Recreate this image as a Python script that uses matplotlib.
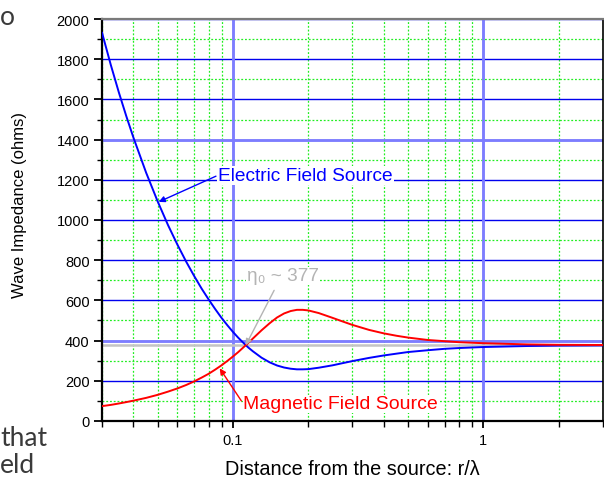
import matplotlib
matplotlib.use('Agg')
import matplotlib.pyplot as plt
from matplotlib.ticker import FixedLocator, FixedFormatter, MultipleLocator, NullFormatter, LogLocator

plt.rcParams['font.family'] = ['Liberation Sans', 'DejaVu Sans']

# values (r/lambda, ohms)
r_over_lambda = [0.03, 0.0325, 0.035, 0.0375, 0.04, 0.045, 0.05, 0.055, 0.06, 0.065, 0.07, 0.075,
                 0.08, 0.085, 0.09, 0.095, 0.1, 0.105, 0.11, 0.115, 0.12, 0.13, 0.14, 0.15, 0.16,
                 0.17, 0.18, 0.19, 0.2, 0.22, 0.25, 0.27, 0.3, 0.35, 0.4, 0.45, 0.5, 0.6, 0.7,
                 0.8, 1.0, 1.5, 2.0, 3.0]
electric_z = [1931, 1772, 1635, 1516, 1411, 1235, 1093, 975, 877, 793, 721, 658,
              604, 556, 513, 476, 443, 414, 389, 366, 347, 315, 292, 276, 266,
              260, 257, 257, 258, 265, 277, 286, 298, 314, 326, 335, 343, 352, 359,
              363, 368, 373, 375, 376]
magnetic_z = [74, 80, 87, 94, 101, 115, 130, 146, 162, 179, 197, 216,
              235, 256, 277, 299, 321, 343, 366, 388, 410, 451, 486, 515, 535,
              547, 553, 553, 550, 537, 513, 498, 478, 453, 436, 424, 415, 403, 397,
              392, 387, 381, 379, 378]
eta0 = 377

y_major = list(range(0, 2001, 200))
x_major = [0.1, 1]
x_major_labels = ['0.1', '1']

fig = plt.figure(figsize=(6.04, 4.81), dpi=100)
ax = fig.add_axes([0.169, 0.1227, 0.829, 0.8357])
ax.set_xscale('log')
ax.set_xlim(0.03, 3.0)
ax.set_ylim(0, 2000)

ax.yaxis.set_major_locator(FixedLocator(y_major))
ax.yaxis.set_minor_locator(MultipleLocator(100))
ax.xaxis.set_major_locator(FixedLocator(x_major))
ax.xaxis.set_major_formatter(FixedFormatter(x_major_labels))
ax.xaxis.set_minor_locator(LogLocator(base=10, subs=range(2, 10)))
ax.xaxis.set_minor_formatter(NullFormatter())

ax.grid(True, which='minor', color='#22ee22', linestyle=(0, (1.5, 1.5)), linewidth=0.9, zorder=0)
ax.grid(True, which='major', color='#0000ee', linewidth=1.0, zorder=1)
ax.set_axisbelow(True)
for yv in (400, 1400):
    ax.axhline(yv, color='#7d7dff', linewidth=2.0, zorder=1.1)
for xv in x_major:
    ax.axvline(xv, color='#7d7dff', linewidth=2.0, zorder=1.1)

ax.axhline(eta0, color='#c4c4c4', linewidth=1.8, zorder=2)
ax.plot(r_over_lambda, electric_z, color='#0000ff', linewidth=1.4, zorder=3)
ax.plot(r_over_lambda, magnetic_z, color='#ff0000', linewidth=1.4, zorder=3)

box = dict(facecolor='white', edgecolor='none', pad=0.5)
ax.text(0.0873, 1222, 'Electric Field Source', color='#0000ff', fontsize=13.8,
        ha='left', va='center', bbox=box, zorder=5)
ax.annotate('', xy=(0.0505, 1090), xytext=(0.0855, 1218),
            arrowprops=dict(arrowstyle='-|>', color='#0000ff', lw=1.0, mutation_scale=9,
                            shrinkA=0, shrinkB=0), zorder=5)
ax.text(0.114, 722, 'η₀ ~ 377', color='#b4b4b4', fontsize=13.7,
        ha='left', va='center', bbox=box, zorder=5)
ax.annotate('', xy=(0.1125, 377), xytext=(0.146, 650),
            arrowprops=dict(arrowstyle='-|>', color='#b4b4b4', lw=1.0, mutation_scale=9,
                            shrinkA=0, shrinkB=0), zorder=5)
ax.text(0.110, 85, 'Magnetic Field Source', color='#ff0000', fontsize=14,
        ha='left', va='center', bbox=box, zorder=5)
ax.annotate('', xy=(0.0885, 262), xytext=(0.108, 100),
            arrowprops=dict(arrowstyle='-|>', color='#ff0000', lw=1.0, mutation_scale=9,
                            shrinkA=0, shrinkB=0), zorder=5)

ax.set_xlabel('Distance from the source: r/λ', fontsize=14.3, labelpad=8)
ax.set_ylabel('Wave Impedance (ohms)', fontsize=12)
ax.yaxis.set_label_coords(-0.150, 0.54)
ax.tick_params(axis='y', which='major', direction='out', length=6, width=1.3, labelsize=10.5, pad=3)
ax.tick_params(axis='y', which='minor', direction='out', length=3.5, width=1.0)
ax.tick_params(axis='x', which='major', direction='out', length=5, width=1.3, labelsize=10.5, pad=4)
ax.tick_params(axis='x', which='minor', direction='out', length=4, width=1.0)

for s in ('left', 'bottom'):
    ax.spines[s].set_color('black')
    ax.spines[s].set_linewidth(1.6)
ax.spines['right'].set_color('black')
ax.spines['right'].set_linewidth(1.2)
ax.spines['top'].set_color('#7a7a7a')
ax.spines['top'].set_linewidth(1.6)

# cropped slide text on the left edge
side = dict(color='#3a3a3a', fontsize=19, family=['Lato', 'DejaVu Sans'])
fig.text(0.0, 0.948, 'o', ha='left', va='baseline', **side)
fig.text(0.0, 0.073, 'that', ha='left', va='baseline', **side)
fig.text(0.0, 0.017, 'eld', ha='left', va='baseline', **side)

fig.savefig('out.png', dpi=100)
